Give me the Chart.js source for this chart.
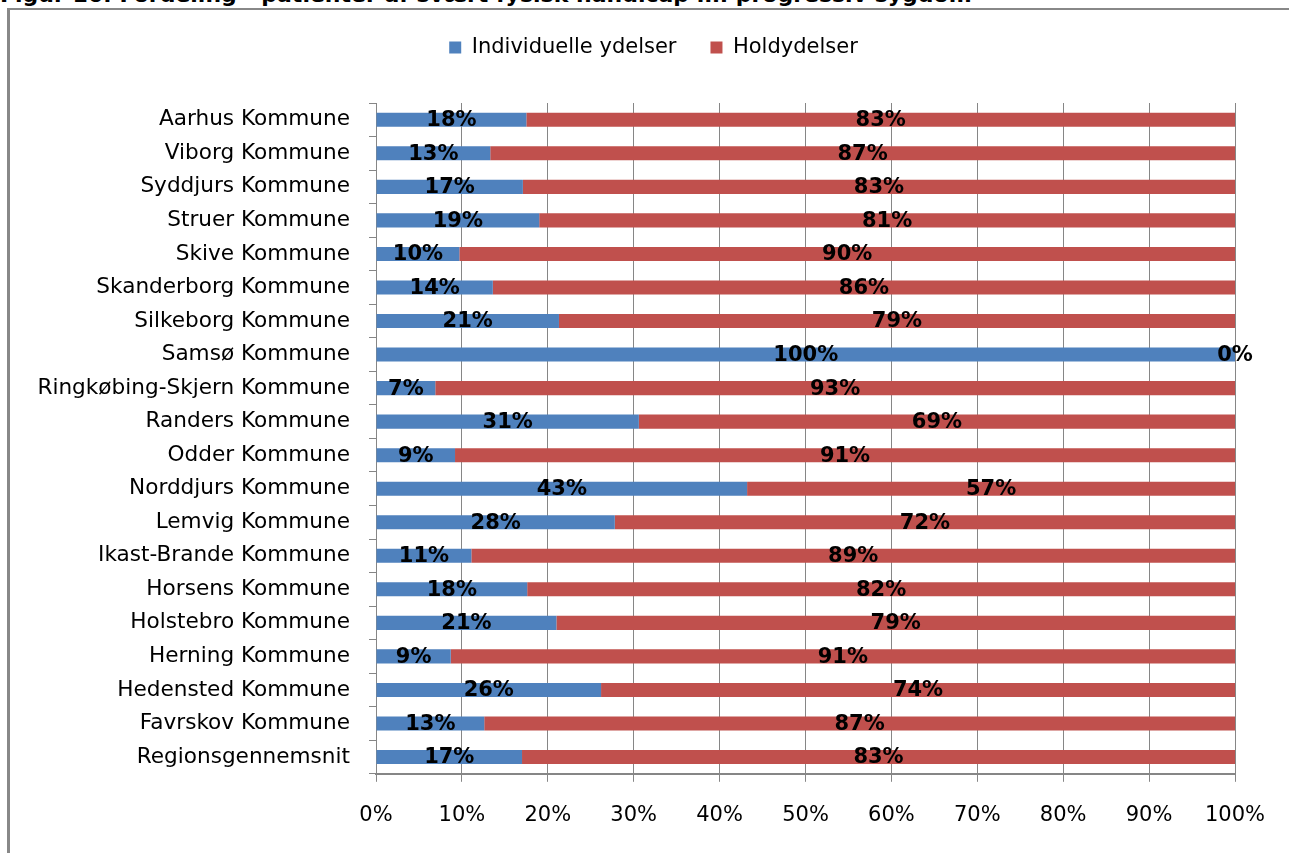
<!DOCTYPE html>
<html><head><meta charset="utf-8">
<script src="https://cdn.jsdelivr.net/npm/chart.js@4.4.0/dist/chart.umd.min.js"></script>
<style>
html,body{margin:0;padding:0;background:#fff;width:1289px;height:853px;overflow:hidden;}
#title{position:absolute;left:0;top:-16px;font:bold 22px "DejaVu Sans";white-space:nowrap;color:#000;line-height:22px;}
#frame{position:absolute;left:7px;top:8px;width:1400px;height:1000px;border-left:3px solid #888;border-top:2px solid #888;}
#wrap{position:absolute;left:0;top:0;width:1289px;height:853px;}
</style></head>
<body>
<div id="frame"></div>
<div id="title">Figur 16: Fordeling - patienter af svært fysisk handicap m. progressiv sygdom</div>
<div id="wrap"><canvas id="c" width="1289" height="853"></canvas></div>
<script>
const categories = ["Aarhus Kommune","Viborg Kommune","Syddjurs Kommune","Struer Kommune","Skive Kommune","Skanderborg Kommune","Silkeborg Kommune","Samsø Kommune","Ringkøbing-Skjern Kommune","Randers Kommune","Odder Kommune","Norddjurs Kommune","Lemvig Kommune","Ikast-Brande Kommune","Horsens Kommune","Holstebro Kommune","Herning Kommune","Hedensted Kommune","Favrskov Kommune","Regionsgennemsnit"];
const individuelle = [17.5,13.3,17.1,19.0,9.7,13.6,21.3,100,6.9,30.6,9.2,43.2,27.8,11.1,17.6,21.0,8.7,26.2,12.6,17.0];
const hold = [82.5,86.7,82.9,81.0,90.3,86.4,78.7,0,93.1,69.4,90.8,56.8,72.2,88.9,82.4,79.0,91.3,73.8,87.4,83.0];
const seriesNames = ["Individuelle ydelser","Holdydelser"];
const xTicks = [0,10,20,30,40,50,60,70,80,90,100];

const gridCol = '#868686';
const labelPlugin = {
  id:'barLabels',
  afterDatasetsDraw(chart){
    const ctx = chart.ctx; ctx.save();
    ctx.font = 'bold 21px "DejaVu Sans"'; ctx.fillStyle = '#000';
    ctx.textAlign = 'center'; ctx.textBaseline = 'middle';
    chart.data.datasets.forEach((ds,i)=>{
      chart.getDatasetMeta(i).data.forEach((bar,j)=>{
        const v = ds.data[j];
        ctx.fillText(Math.round(v)+'%', (bar.x+bar.base)/2, bar.y+1);
      });
    });
    ctx.restore();
  }
};
const legendGap = {
  id:'legendGap',
  beforeLayout(chart){
    const lg = chart.legend;
    if (lg && !lg._gapPatched){
      const f = lg.fit.bind(lg);
      lg.fit = function(){ f(); this.height += 35; };
      lg._gapPatched = true;
    }
  },
  afterLayout(chart){
    const lg = chart.legend;
    if (lg){ lg.left += 36; lg.right += 36; }
  }
};

new Chart(document.getElementById('c'), {
  type:'bar',
  data:{
    labels: categories,
    datasets:[
      {label:seriesNames[0], data:individuelle, backgroundColor:'#4F81BD', borderWidth:0},
      {label:seriesNames[1], data:hold, backgroundColor:'#C0504D', borderWidth:0}
    ]
  },
  options:{
    indexAxis:'y', responsive:false, animation:false, devicePixelRatio:1,
    categoryPercentage:1, barPercentage:0.42,
    layout:{padding:{top:3,left:0,right:54,bottom:4}},
    plugins:{
      legend:{position:'top', align:'center',
        labels:{boxWidth:12, boxHeight:12, padding:34, color:'#000', font:{family:'DejaVu Sans', size:21}}},
      tooltip:{enabled:false}
    },
    scales:{
      x:{stacked:true, min:0, max:100,
        afterBuildTicks(s){ s.ticks = xTicks.map(v=>({value:v})); },
        ticks:{callback:v=>v+'%', color:'#000', padding:21, font:{family:'DejaVu Sans', size:21}},
        grid:{color:gridCol, lineWidth:1, tickLength:8},
        border:{color:gridCol, width:2}
      },
      y:{stacked:true,
        afterFit(s){ s.width = 376; },
        ticks:{color:'#000', padding:19, font:{family:'DejaVu Sans', size:21.6}},
        grid:{drawOnChartArea:false, tickLength:7, color:gridCol, offset:true},
        border:{color:gridCol, width:1}
      }
    }
  },
  plugins:[labelPlugin, legendGap]
});
</script>
</body></html>
